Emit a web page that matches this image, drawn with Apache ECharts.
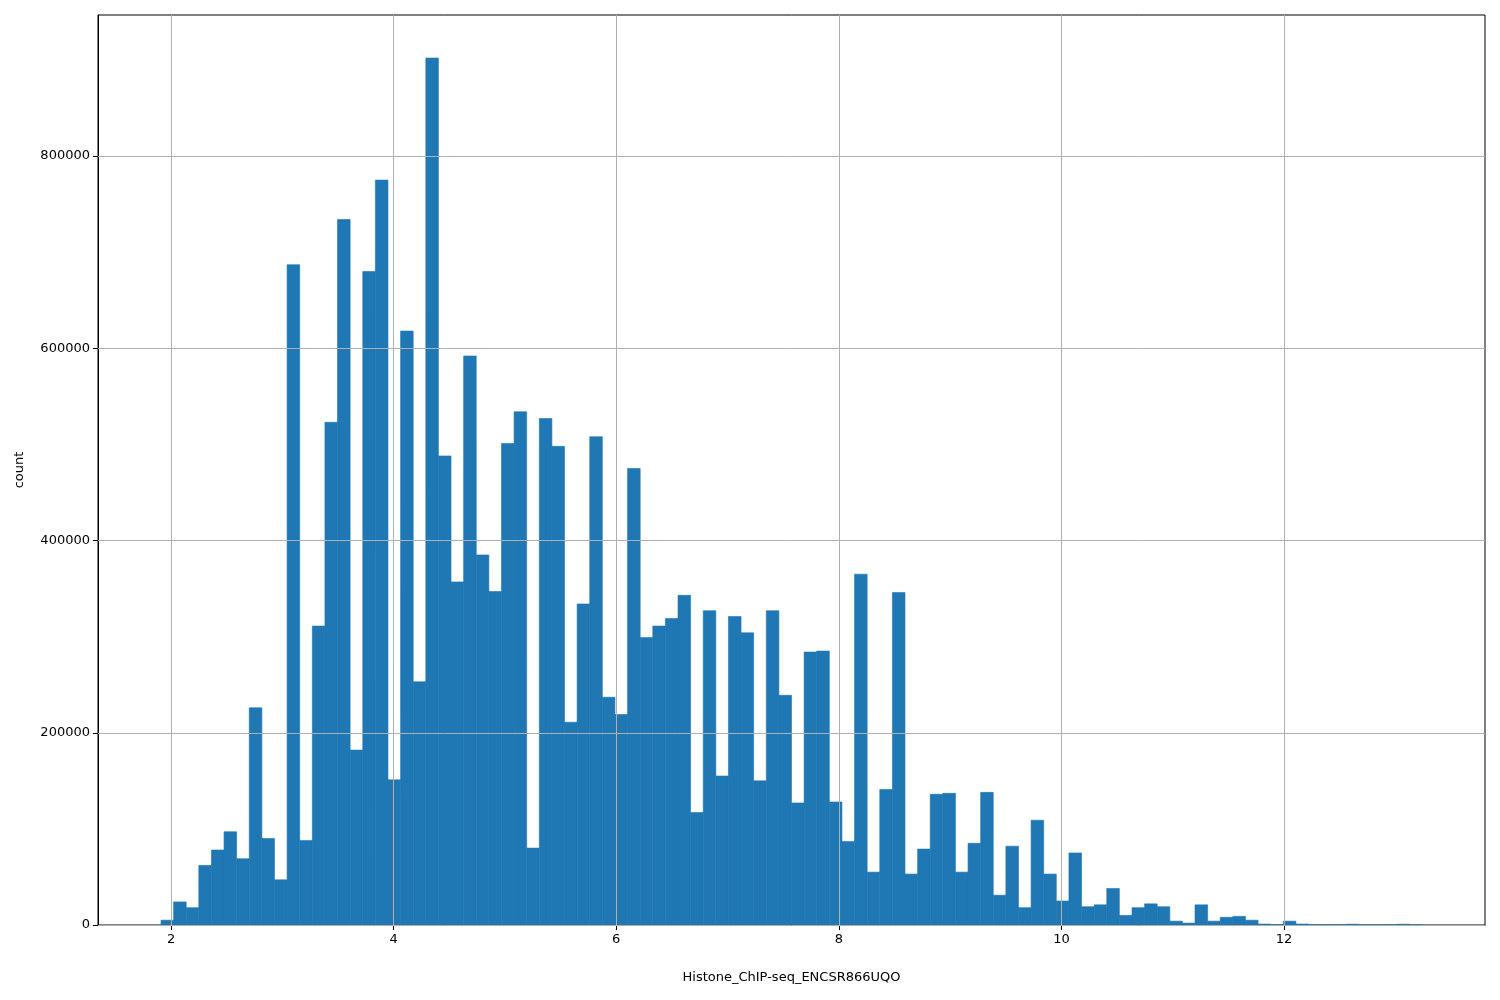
<!DOCTYPE html>
<html>
<head>
<meta charset="utf-8">
<script src="https://cdn.jsdelivr.net/npm/echarts@6/dist/echarts.min.js"></script>
<style>html,body{margin:0;padding:0;background:#fff}#main{width:1500px;height:1000px}</style>
</head>
<body>
<div id="main"></div>
<script>
// histogram: 100 bins from binLo to binHi
var binLo = 1.910, binHi = 13.24;
var counts = [
  5000, 24000, 18000, 62000, 78000, 97000, 69000, 226000, 90000, 47000,
  687000, 88000, 311000, 523000, 734000, 182000, 680000, 775000, 151000, 618000,
  253000, 902000, 488000, 357000, 592000, 385000, 347000, 501000, 534000, 80000,
  527000, 498000, 211000, 334000, 508000, 237000, 219000, 475000, 299000, 311000,
  319000, 343000, 117000, 327000, 155000, 321000, 304000, 150000, 327000, 239000,
  127000, 284000, 285000, 128000, 87000, 365000, 55000, 141000, 346000, 53000,
  79000, 136000, 137000, 55000, 85000, 138000, 31000, 82000, 18000, 109000,
  53000, 25000, 75000, 19000, 21000, 38000, 10000, 18000, 22000, 19000,
  4000, 2000, 21000, 4000, 8000, 9000, 5000, 1000, 300, 4000,
  1000, 200, 100, 300, 800, 100, 100, 200, 800, 100
];
var xTicks = [2, 4, 6, 8, 10, 12];
var yTicks = [0, 200000, 400000, 600000, 800000];

var width = (binHi - binLo) / counts.length;
var bars = counts.map(function (c, i) { return [binLo + i * width, binLo + (i + 1) * width, c]; });

var gridLines = xTicks.map(function (v) { return {xAxis: v}; })
    .concat(yTicks.map(function (v) { return {yAxis: v}; }));

var myChart = echarts.init(document.getElementById('main'));
var font = 'DejaVu Sans';
var option = {
    animation: false,
    grid: {left: 98, right: 15, top: 15, bottom: 75, show: true, borderColor: '#000', borderWidth: 1},
    xAxis: {
        type: 'value', min: 1.344, max: 13.806,
        name: 'Histone_ChIP-seq_ENCSR866UQO', nameLocation: 'middle', nameGap: 46,
        nameTextStyle: {color: '#000', fontSize: 13, fontFamily: font},
        axisLine: {lineStyle: {color: '#000'}},
        axisTick: {show: true, customValues: xTicks, length: 5, lineStyle: {color: '#000'}},
        axisLabel: {customValues: xTicks, color: '#000', fontSize: 13, fontFamily: font, margin: 8},
        splitLine: {show: false}
    },
    yAxis: {
        type: 'value', min: 0, max: 946800, interval: 200000,
        name: 'count', nameLocation: 'middle', nameGap: 72, nameRotate: 90,
        nameTextStyle: {color: '#000', fontSize: 13, fontFamily: font},
        axisLine: {show: true, lineStyle: {color: '#000'}},
        axisTick: {show: true, length: 5, lineStyle: {color: '#000'}},
        axisLabel: {color: '#000', fontSize: 13, fontFamily: font, margin: 8,
            showMaxLabel: false, formatter: function (v) { return String(v); }},
        splitLine: {show: false}
    },
    series: [{
        type: 'custom',
        data: bars,
        renderItem: function (params, api) {
            var p0 = api.coord([api.value(0), api.value(2)]);
            var p1 = api.coord([api.value(1), 0]);
            return {type: 'rect', shape: {x: p0[0], y: p0[1], width: p1[0] - p0[0], height: p1[1] - p0[1]},
                style: {fill: '#1f77b4', stroke: '#1f77b4', lineWidth: 0.6}};
        },
        encode: {x: [0, 1], y: 2},
        markLine: {
            silent: true, symbol: 'none', label: {show: false}, animation: false,
            lineStyle: {color: '#b0b0b0', width: 1, type: 'solid'},
            data: gridLines
        }
    }]
};
myChart.setOption(option);
</script>
</body>
</html>
